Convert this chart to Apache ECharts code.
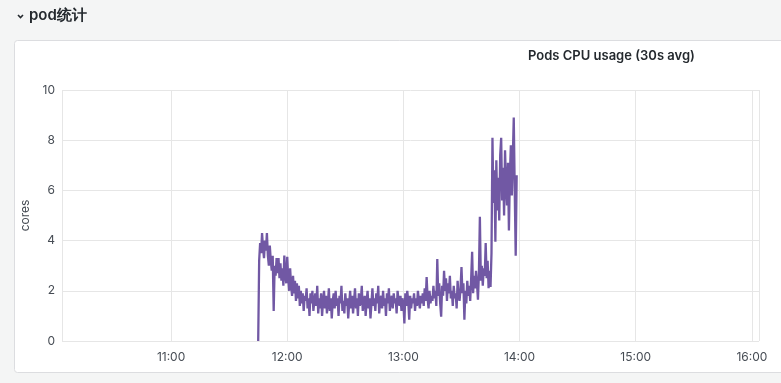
<!DOCTYPE html>
<html><head><meta charset="utf-8">
<script src="https://cdn.jsdelivr.net/npm/echarts@6/dist/echarts.min.js"></script>
<style>html,body{margin:0;padding:0;background:#f4f5f5;}#c{width:781px;height:383px;}</style>
</head><body><div id="c"></div>
<script>
// sampling: 30 s steps starting at 11:45:00
const startTime = [11, 45, 0];
const stepSeconds = 30;
const cpuValues = [
0, 3.2, 3.9, 3.5, 4.3, 3.7, 3.3, 4.0, 3.6, 4.3,
3.4, 3.0, 3.8, 3.2, 2.8, 3.4, 1.2, 3.0, 2.6, 3.3,
2.7, 3.3, 2.5, 3.1, 2.4, 2.9, 2.2, 3.4, 2.6, 2.3,
3.35, 2.5, 2.0, 2.9, 2.2, 1.8, 2.6, 1.9, 2.4, 1.6,
2.3, 1.7, 2.2, 1.4, 2.0, 1.5, 1.9, 1.2, 1.8, 1.6,
2.1, 1.3, 1.7, 1.0, 1.9, 1.5, 2.0, 1.2, 1.6, 1.9,
1.4, 2.2, 1.1, 1.7, 1.3, 1.9, 1.0, 1.6, 2.0, 1.3,
1.8, 1.1, 1.5, 2.1, 1.2, 1.7, 0.9, 1.6, 1.9, 1.3,
2.0, 1.4, 1.7, 1.0, 1.8, 1.5, 2.2, 1.2, 1.6, 1.1,
1.9, 1.4, 1.7, 0.9, 1.5, 2.0, 1.3, 1.8, 1.1, 1.6,
2.1, 1.3, 1.7, 1.0, 1.9, 1.4, 1.6, 2.2, 1.2, 1.5,
1.8, 1.0, 1.6, 2.0, 1.3, 1.7, 0.9, 1.5, 2.1, 1.4,
1.7, 1.2, 1.9, 1.5, 2.2, 1.1, 1.6, 1.8, 1.3, 2.0,
1.4, 1.7, 1.0, 1.9, 1.5, 2.1, 1.2, 1.6, 1.8, 1.3,
1.9, 1.5, 1.7, 1.1, 2.0, 1.6, 1.4, 1.8, 1.2, 1.7,
1.5, 0.7, 1.9, 1.4, 2.0, 1.6, 0.85, 1.8, 1.3, 1.7,
1.5, 1.9, 1.2, 1.7, 1.4, 2.0, 1.6, 1.3, 1.8, 1.5,
1.9, 1.4, 2.1, 1.6, 2.55, 1.7, 1.3, 2.0, 1.5, 1.8,
1.6, 2.2, 1.7, 2.0, 1.4, 3.27, 1.8, 2.3, 1.5, 0.97,
2.2, 1.8, 2.8, 2.0, 2.5, 1.6, 2.3, 1.9, 2.6, 1.7,
2.0, 1.4, 2.2, 1.7, 1.9, 1.3, 2.4, 1.8, 1.6, 2.1,
2.95, 1.9, 2.3, 0.85, 2.0, 1.5, 2.4, 1.8, 2.2, 1.6,
2.5, 3.55, 1.9, 2.6, 2.1, 2.8, 2.3, 1.65, 2.7, 4.95,
2.4, 3.0, 2.2, 2.9, 2.6, 3.9, 2.5, 3.2, 2.1, 2.8,
2.15, 3.5, 8.1, 5.5, 6.8, 3.95, 7.2, 5.2, 6.5, 4.8,
7.4, 8.1, 5.6, 6.9, 5.0, 7.6, 6.2, 5.4, 7.1, 4.4,
6.6, 7.8, 5.8, 7.3, 8.9, 6.0, 3.4, 6.6
];
const axisStart = [10, 3, 40];
const axisEnd = [16, 3, 40];
const yTicks = [0, 2, 4, 6, 8, 10];
const panelTitle = 'Pods CPU usage (30s avg)';
const rowTitle = 'pod统计';
const yName = 'cores';

function t(h, m, s) { return new Date(2024, 0, 1, h, m, s).getTime(); }
const t0 = t(startTime[0], startTime[1], startTime[2]);
const seriesData = cpuValues.map((v, i) => [t0 + i * stepSeconds * 1000, v]);

const chart = echarts.init(document.getElementById('c'));
const font = 'Inter, Roboto, "Noto Sans", sans-serif';
chart.setOption({
  backgroundColor: '#f4f5f5',
  animation: false,
  textStyle: { fontFamily: font },
  graphic: [
    { type: 'rect', shape: { x: 14.5, y: 40.5, width: 800, height: 332, r: 3 },
      style: { fill: '#ffffff', stroke: '#dcdde0', lineWidth: 1 }, z: -10 },
    { type: 'polyline', shape: { points: [[18, 15], [20.5, 17.5], [23, 15]] },
      style: { stroke: '#24292e', lineWidth: 1.6, fill: null } },
    { type: 'text', left: 29, top: 8,
      style: { text: rowTitle, font: '600 15px ' + font, fill: '#24292e' } },
    { type: 'text', left: 528, top: 50,
      style: { text: panelTitle, font: '600 13px ' + font, fill: '#24292e' } }
  ],
  grid: { left: 62, right: 22, top: 90, bottom: 42, containLabel: false },
  xAxis: {
    type: 'time',
    min: t(axisStart[0], axisStart[1], axisStart[2]),
    max: t(axisEnd[0], axisEnd[1], axisEnd[2]),
    splitNumber: 6,
    axisLine: { show: false },
    axisTick: { show: false },
    axisLabel: {
      color: '#464c54', fontSize: 12, margin: 10, hideOverlap: false,
      formatter: function (val) {
        const d = new Date(val);
        return String(d.getHours()).padStart(2, '0') + ':' + String(d.getMinutes()).padStart(2, '0');
      }
    },
    splitLine: { show: true, lineStyle: { color: '#e6e6e6', width: 1 } }
  },
  yAxis: {
    type: 'value', min: yTicks[0], max: yTicks[yTicks.length - 1], interval: 2,
    name: yName, nameLocation: 'middle', nameGap: 27, nameRotate: 90,
    nameTextStyle: { color: '#464c54', fontSize: 12 },
    axisLine: { show: false }, axisTick: { show: false },
    axisLabel: { color: '#464c54', fontSize: 12, margin: 7 },
    splitLine: { lineStyle: { color: '#e6e6e6', width: 1 } }
  },
  series: [{
    type: 'line', data: seriesData, showSymbol: false,
    lineStyle: { color: '#7158a4', width: 2.3 }, itemStyle: { color: '#7158a4' }
  }]
});
</script></body></html>
